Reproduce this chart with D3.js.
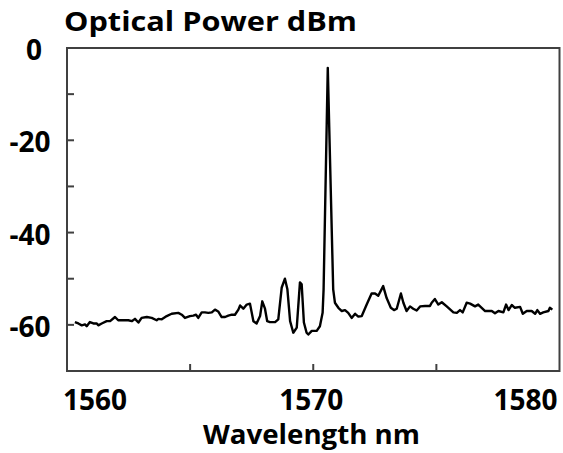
<!DOCTYPE html>
<html>
<head>
<meta charset="utf-8">
<script src="https://cdn.jsdelivr.net/npm/d3@7"></script>
<style>
  html, body { margin: 0; padding: 0; background: #fff; }
  svg { display: block; }
  text { font-family: "Open Sans", "DejaVu Sans", sans-serif; font-weight: bold; fill: #000; }
</style>
</head>
<body>
<svg id="chart" width="563" height="453"></svg>
<script>
// Wavelength (nm)
const wavelength = [
  1560.32, 1560.46, 1560.60, 1560.73, 1560.80, 1560.93, 1561.07, 1561.21, 1561.27, 1561.41,
  1561.61, 1561.75, 1561.95, 1562.08, 1562.29, 1562.49, 1562.63, 1562.76, 1562.90, 1563.03,
  1563.24, 1563.44, 1563.64, 1563.71, 1563.85, 1564.05, 1564.25, 1564.52, 1564.66, 1564.79,
  1564.99, 1565.13, 1565.24, 1565.33, 1565.47, 1565.60, 1565.74, 1565.88, 1566.01, 1566.14,
  1566.28, 1566.42, 1566.55, 1566.69, 1566.82, 1566.96, 1567.03, 1567.16, 1567.30, 1567.43,
  1567.57, 1567.70, 1567.84, 1567.93, 1568.04, 1568.13, 1568.24, 1568.45, 1568.58, 1568.72,
  1568.85, 1568.95, 1569.06, 1569.19, 1569.33, 1569.46, 1569.53, 1569.62, 1569.73, 1569.80,
  1569.94, 1570.14, 1570.27, 1570.38, 1570.42, 1570.59, 1570.81, 1570.88, 1571.02, 1571.16,
  1571.29, 1571.42, 1571.56, 1571.70, 1571.83, 1571.97, 1572.17, 1572.37, 1572.51, 1572.64,
  1572.84, 1572.98, 1573.15, 1573.28, 1573.39, 1573.56, 1573.66, 1573.79, 1573.93, 1574.06,
  1574.20, 1574.34, 1574.54, 1574.74, 1574.81, 1574.94, 1575.08, 1575.22, 1575.42, 1575.69,
  1575.83, 1575.96, 1576.07, 1576.23, 1576.37, 1576.57, 1576.70, 1576.84, 1576.98, 1577.25,
  1577.38, 1577.52, 1577.72, 1577.83, 1577.93, 1578.06, 1578.19, 1578.40, 1578.51, 1578.67,
  1578.87, 1579.01, 1579.10, 1579.21, 1579.34, 1579.55, 1579.61, 1579.71
];
// Optical power (dBm)
const power = [
  -59.4, -59.7, -60.1, -59.9, -60.3, -59.4, -59.7, -59.7, -60.1, -59.7,
  -59.2, -59.2, -58.3, -59.0, -59.0, -59.0, -59.2, -58.7, -59.5, -58.5,
  -58.3, -58.5, -59.0, -58.7, -58.8, -58.1, -57.6, -57.4, -57.8, -58.5,
  -58.1, -58.0, -57.8, -58.5, -57.3, -57.3, -57.4, -57.3, -56.7, -57.1,
  -58.3, -58.3, -58.0, -57.8, -57.8, -56.7, -55.8, -56.5, -55.6, -55.4,
  -59.2, -59.7, -58.1, -54.9, -56.5, -59.2, -59.4, -59.4, -58.8, -51.9,
  -50.0, -52.3, -59.2, -61.7, -60.6, -50.8, -51.2, -59.5, -61.7, -62.1,
  -61.3, -61.3, -60.3, -57.4, -52.3, -4.3, -52.3, -55.2, -56.3, -57.0,
  -56.8, -57.4, -58.5, -57.6, -58.2, -58.1, -55.6, -53.2, -53.2, -53.7,
  -51.6, -54.2, -56.3, -56.8, -56.5, -53.2, -55.2, -57.0, -56.0, -56.5,
  -56.9, -56.0, -55.9, -55.9, -55.2, -54.4, -55.6, -55.1, -56.0, -57.3,
  -57.4, -56.8, -57.3, -55.2, -55.4, -56.0, -55.6, -56.3, -57.0, -57.0,
  -57.5, -57.0, -57.3, -55.6, -56.8, -55.7, -56.3, -56.1, -57.6, -57.0,
  -57.0, -57.6, -56.8, -57.6, -57.3, -57.0, -56.3, -56.7
];
const xTicks = [1565, 1570, 1575];
const xTickLabels = [1560, 1570, 1580];
const yTicks = [-10, -20, -30, -40, -50, -60];
const yTickLabels = [0, -20, -40, -60];
const xTitle = "Wavelength nm";
const yTitle = "Optical Power dBm";

const svg = d3.select("#chart");
const mLeft = 67, mRight = 559.5, mTop = 48, mBottom = 371;
const x = d3.scaleLinear().domain([1560, 1580]).range([mLeft, mRight]);
const y = d3.scaleLinear().domain([-70, 0]).range([mBottom, mTop]);
const axisColor = "#404040";

// Plot frame
svg.append("rect")
  .attr("x", mLeft).attr("y", mTop)
  .attr("width", mRight - mLeft).attr("height", mBottom - mTop)
  .attr("fill", "none").attr("stroke", axisColor).attr("stroke-width", 2);

// Inward ticks
svg.append("g").selectAll("line").data(yTicks).join("line")
  .attr("x1", mLeft).attr("x2", mLeft + 7)
  .attr("y1", d => y(d)).attr("y2", d => y(d))
  .attr("stroke", axisColor).attr("stroke-width", 2);
svg.append("g").selectAll("line").data(xTicks).join("line")
  .attr("x1", d => x(d)).attr("x2", d => x(d))
  .attr("y1", mBottom).attr("y2", mBottom - 7)
  .attr("stroke", axisColor).attr("stroke-width", 2);

// Tick labels
svg.append("g").selectAll("text").data(yTickLabels).join("text")
  .attr("x", d => d === 0 ? 34 : 30)
  .attr("y", d => y(d) + 12)
  .attr("text-anchor", "middle")
  .attr("font-size", 28)
  .text(d => d);
svg.append("g").selectAll("text").data(xTickLabels).join("text")
  .attr("x", (d, i) => i === 0 ? x(d) - 4 : x(d) - 2)
  .attr("y", 410)
  .attr("text-anchor", (d, i) => i === 0 ? "start" : i === xTickLabels.length - 1 ? "end" : "middle")
  .attr("font-size", 28)
  .text(d => d);

// Titles
svg.append("text").attr("x", 64).attr("y", 31).attr("font-size", 26)
  .attr("textLength", 293).attr("lengthAdjust", "spacingAndGlyphs").text(yTitle);
svg.append("text").attr("x", 203).attr("y", 444).attr("font-size", 26)
  .attr("textLength", 217).attr("lengthAdjust", "spacingAndGlyphs").text(xTitle);

// Spectrum line
const data = wavelength.map((w, i) => ({ w, p: power[i] }));
svg.append("path").datum(data)
  .attr("fill", "none").attr("stroke", "#000").attr("stroke-width", 2.4)
  .attr("stroke-linejoin", "round")
  .attr("d", d3.line().x(d => x(d.w)).y(d => y(d.p)));
</script>
</body>
</html>
